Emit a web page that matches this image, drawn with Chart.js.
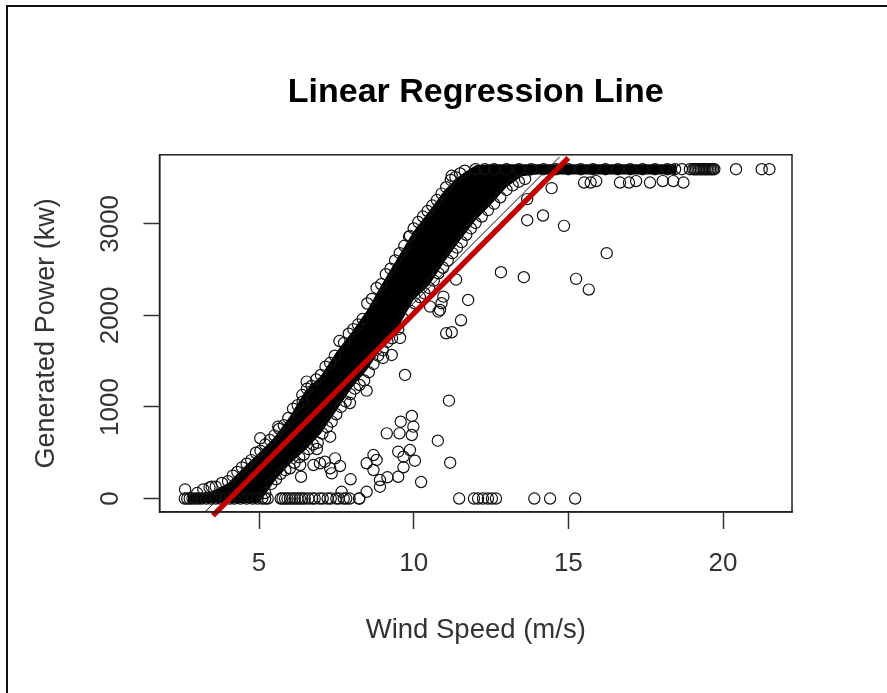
<!DOCTYPE html>
<html><head><meta charset="utf-8">
<style>
html,body{margin:0;padding:0;background:#fff;width:887px;height:693px;overflow:hidden}
#frame{position:absolute;left:6px;top:5px;width:881px;height:686px;border-left:2px solid #111;border-top:2px solid #111;border-bottom:1px solid #ddd;box-sizing:content-box}
canvas{position:absolute;left:0;top:0}
</style></head><body>
<div id="frame"></div>
<canvas id="c" width="887" height="693"></canvas>
<script src="https://cdn.jsdelivr.net/npm/chart.js@4"></script>
<script>
const titleText = "Linear Regression Line";
const xLabel = "Wind Speed (m/s)";
const yLabel = "Generated Power (kw)";
const xTicks = [5,10,15,20];
const yTicks = [0,1000,2000,3000];

// solid mass of overlapping points
const bandWind  = [2.7,3.5,4,4.5,5,5.3,5.5,6,6.5,7,7.5,8,8.5,9,9.5,10,10.5,11,11.5,12,12.5,13,13.5,14,15,16,17,18,18.5];
const bandUpper = [40,80,170,340,500,600,670,900,1180,1340,1600,1820,2060,2360,2640,2920,3140,3370,3530,3640,3650,3650,3650,3650,3650,3650,3650,3650,3650];
const bandLower = [-50,-50,-50,-50,-50,90,190,380,530,710,960,1210,1410,1660,1870,2170,2330,2590,2820,3040,3210,3400,3520,3540,3540,3540,3540,3540,3540];

const upperEdgeWind  = [3.0,3.2,3.4,3.6,3.8,4.0,4.15,4.3,4.45,4.6,4.75,4.9,5.05,5.2,5.35,5.5,5.65,5.8,5.95,6.1,6.25,6.4,6.55,6.7,6.85,7.0,7.15,7.3,7.45,7.6,7.75,7.9,8.05,8.2,8.35,8.5,8.65,8.8,8.95,9.1,9.25,9.4,9.55,9.7,9.85,10,10.15,10.3,10.45,10.6,10.75,10.9,11.05,11.2,11.35,11.5,11.65];
const upperEdgePower = [60,100,120,130,170,190,250,290,340,380,420,500,520,590,640,690,760,800,880,980,1020,1130,1200,1230,1300,1350,1440,1480,1560,1720,1700,1800,1850,1900,1960,2130,2180,2300,2340,2450,2510,2600,2680,2760,2860,2950,3020,3080,3140,3200,3260,3330,3400,3480,3510,3550,3580];

const lowerEdgeWind  = [5.2,5.4,5.55,5.7,5.85,6.0,6.15,6.3,6.45,6.6,6.75,6.9,7.05,7.2,7.35,7.5,7.65,7.8,7.95,8.1,8.25,8.4,8.55,8.7,8.85,9.0,9.15,9.3,9.5,9.9,10.05,10.2,10.35,10.5,10.65,10.8,10.95,11.1,11.25,11.4,11.55,11.7,11.85,12.0,12.2,12.4,12.6,12.8,13.0,13.2,13.4,13.6];
const lowerEdgePower = [60,160,210,270,310,330,390,450,480,540,590,610,710,780,840,920,1000,1060,1140,1200,1240,1290,1380,1470,1560,1620,1710,1750,1850,2050,2130,2200,2240,2300,2380,2460,2520,2600,2680,2740,2800,2880,2950,3010,3080,3150,3220,3290,3370,3420,3460,3490];

const outlierWind  = [20.42,21.25,21.5,16.24,15.25,15.66,12.82,13.56,13.67,14.18,14.86,14.46,13.67,11.76,11.53,11.37,11.23,11.05,10.96,10.9,10.8,10.53,10.85,15.51,15.72,15.9,16.67,16.96,17.19,17.64,18.05,18.39,18.72,11.23,9.88,9.94,9.58,9.99,9.94,9.54,9.13,10.78,9.88,9.5,9.67,10.04,9.67,11.18,8.7,8.8,8.48,8.7,9.5,9.15,8.91,8.91,10.24,8.48,8.24,7.96,7.67,7.46,7.62,7.3,7.35,6.76,6.97,7.13,6.33,6.36,6.87,7.3,2.61,3.47,5.04,5.62,6.41,6.54,11.14,9.72,9.56,9.29,9.01,8.48,7.94];
const outlierPower = [3597,3597,3597,2680,2399,2282,2472,2417,3040,3091,2978,3390,3270,2169,1947,2391,1816,1805,2205,2133,2041,2096,2060,3451,3451,3467,3451,3451,3467,3451,3467,3467,3451,3525,2869,902,839,785,694,712,712,632,530,512,457,413,341,391,475,421,385,311,238,232,202,129,180,74,0,210,74,439,355,330,275,366,385,402,366,238,541,675,100,129,658,785,1058,1277,1069,1350,1754,1568,1535,1178,1043];

// points on the zero row
const zeroRowWind = [2.6,2.68,2.76,2.85,2.95,3.05,3.15,3.3,3.45,3.6,3.75,3.9,4.05,4.2,4.4,4.6,4.8,4.95,5.1,5.2,5.28,5.7,5.76,5.84,5.92,6.0,6.08,6.16,6.24,6.32,6.4,6.48,6.6,6.72,6.8,6.96,7.06,7.22,7.32,7.5,7.58,7.74,7.82,7.93,8.24,11.47,11.95,12.08,12.24,12.4,12.53,12.66,13.9,14.41,15.22];
// points on the rated-power row
const topRowWind = [12.0,12.3,12.6,13.0,13.4,13.8,14.2,14.6,15,15.4,15.8,16.2,16.6,17,17.4,17.8,18.2,18.45,18.67,18.93,19.03,19.08,19.13,19.18,19.23,19.28,19.33,19.38,19.43,19.48,19.53,19.58,19.63,19.68,19.72];
const topRowPower = 3597;

const fitWind  = [3.51,15.0];
const fitPower = [-186,3721];
const thinWind  = [3.25,14.72];
const thinPower = [-147,3732];

const pts = [];
upperEdgeWind.forEach((x,i)=>pts.push({x,y:upperEdgePower[i]}));
lowerEdgeWind.forEach((x,i)=>pts.push({x,y:lowerEdgePower[i]}));
outlierWind.forEach((x,i)=>pts.push({x,y:outlierPower[i]}));
zeroRowWind.forEach(x=>pts.push({x,y:0}));
topRowWind.forEach(x=>pts.push({x,y:topRowPower}));
const zip=(a,b)=>a.map((x,i)=>({x,y:b[i]}));

const font='"Liberation Sans", Arial, sans-serif';
const ink='#333333';
const plotBox={id:'plotBox',afterDatasetsDraw(ch){const a=ch.chartArea,g=ch.ctx;g.save();g.strokeStyle='#222';g.lineWidth=1.5;g.strokeRect(a.left,a.top,a.right-a.left,a.bottom-a.top);g.restore();}};

new Chart(document.getElementById('c'),{
  type:'scatter',
  data:{datasets:[
    {label:'fit',data:zip(fitWind,fitPower),showLine:true,borderColor:'#c00000',borderWidth:5.5,pointRadius:0,clip:false,order:0,borderCapStyle:'butt'},
    {label:'fit2',data:zip(thinWind,thinPower),showLine:true,borderColor:'#111',borderWidth:1,pointRadius:0,order:1},
    {label:'points',data:pts,showLine:false,pointRadius:5.6,pointBorderWidth:1.2,pointBorderColor:'#111',pointBackgroundColor:'rgba(0,0,0,0)',order:2},
    {label:'upper',data:zip(bandWind,bandUpper),showLine:true,borderWidth:0,pointRadius:0,fill:{target:4},backgroundColor:'#000',order:3},
    {label:'lower',data:zip(bandWind,bandLower),showLine:true,borderWidth:0,pointRadius:0,order:3}
  ]},
  options:{
    responsive:false,animation:false,devicePixelRatio:1,
    layout:{padding:{right:95}},
    plugins:{
      legend:{display:false},tooltip:{enabled:false},
      title:{display:true,text:titleText,fullSize:false,color:'#000',font:{family:font,size:34,weight:'bold',lineHeight:1.2},padding:{top:72,bottom:42}}
    },
    scales:{
      x:{type:'linear',min:1.783,max:22.23,
        afterFit(s){s.height=181},
        afterBuildTicks(s){s.ticks=xTicks.map(value=>({value}))},
        grid:{drawOnChartArea:false,tickLength:17,color:'#333',tickWidth:1.5},border:{color:'#222',width:1.5},
        ticks:{color:ink,font:{family:font,size:26},padding:19,maxRotation:0,autoSkip:false,callback:v=>String(v)},
        title:{display:true,text:xLabel,color:ink,font:{family:font,size:27.5},padding:{top:20,bottom:46}}},
      y:{type:'linear',min:-147,max:3754,
        afterFit(s){s.width=159.5},
        afterBuildTicks(s){s.ticks=yTicks.map(value=>({value}))},
        grid:{drawOnChartArea:false,tickLength:16,color:'#333',tickWidth:1.5},border:{color:'#222',width:1.5},
        ticks:{color:ink,font:{family:font,size:26},padding:4,minRotation:90,maxRotation:90,crossAlign:'center',autoSkip:false,callback:v=>String(v)},
        title:{display:true,text:yLabel,color:ink,font:{family:font,size:27},padding:{top:30,bottom:0}}}
    }
  },
  plugins:[plotBox]
});
</script>
</body></html>
